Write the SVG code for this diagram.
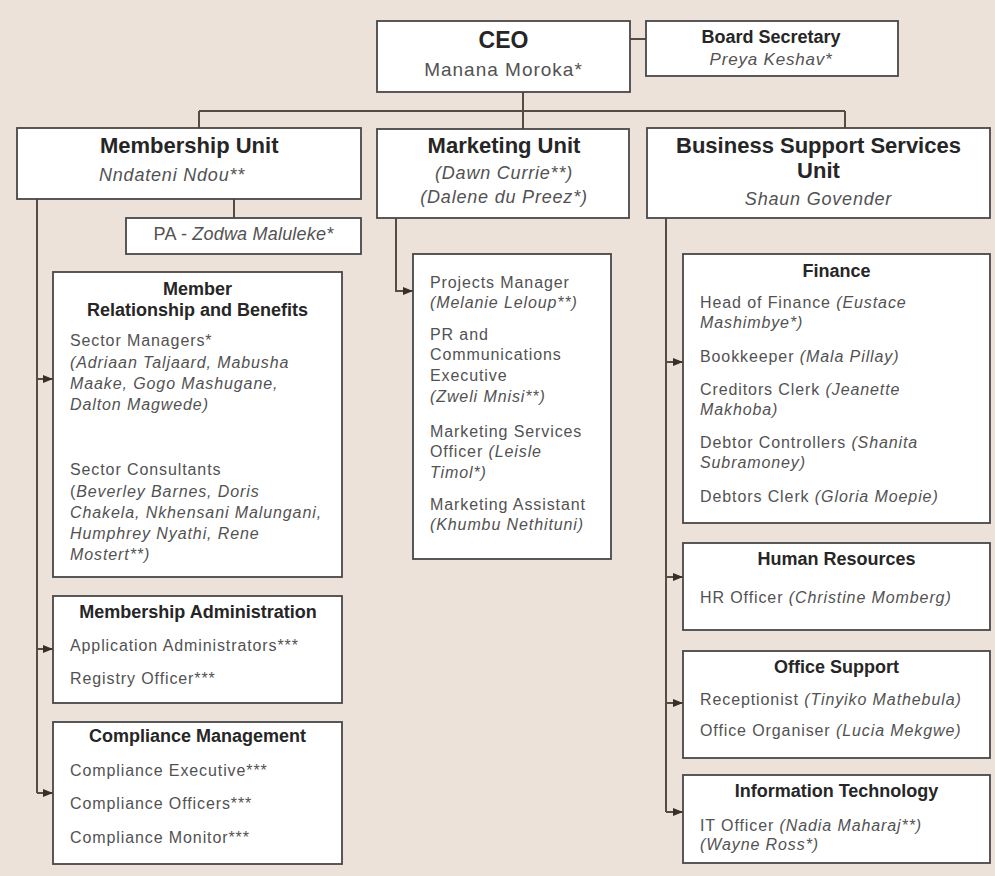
<svg xmlns="http://www.w3.org/2000/svg" width="995" height="876" viewBox="0 0 995 876">
<defs>
<style>
.bg{fill:#ede2da}
.box{fill:#ffffff;stroke:#474747;stroke-width:1.8}
.conn{fill:none;stroke:#5a4a44;stroke-width:2}
.h1{font-family:"Liberation Sans",Arial,sans-serif;font-weight:bold;font-size:22px;fill:#262626}
.h2{font-family:"Liberation Sans",Arial,sans-serif;font-weight:bold;font-size:18px;fill:#262626;text-anchor:middle}
.sub{font-family:"Liberation Sans",Arial,sans-serif;font-size:18px;fill:#525252;letter-spacing:0.8px}
.t{font-family:"Liberation Sans",Arial,sans-serif;font-size:16px;fill:#525252;letter-spacing:0.9px}
.i{font-style:italic}
.mid{text-anchor:middle}
</style>
<marker id="arr" viewBox="0 0 10 8" refX="10" refY="4" markerWidth="10" markerHeight="8" markerUnits="userSpaceOnUse" orient="auto">
<path d="M0,0 L10,4 L0,8 z" fill="#3a2e2a"/>
</marker>
</defs>
<rect class="bg" x="0" y="0" width="995" height="876"/>

<g id="connectors">
<path class="conn" d="M630,39 H646"/>
<path class="conn" d="M523,92 V129"/>
<path class="conn" d="M199,111 H845"/>
<path class="conn" d="M199,111 V128"/>
<path class="conn" d="M845,111 V128"/>
<path class="conn" d="M234,199 V218"/>
<path class="conn" d="M37,199 V793"/>
<path class="conn" d="M37,379 H53" marker-end="url(#arr)"/>
<path class="conn" d="M37,649 H53" marker-end="url(#arr)"/>
<path class="conn" d="M37,793 H53" marker-end="url(#arr)"/>
<path class="conn" d="M396,218 V291 H413" marker-end="url(#arr)"/>
<path class="conn" d="M666,218 V812"/>
<path class="conn" d="M666,362 H683" marker-end="url(#arr)"/>
<path class="conn" d="M666,577 H683" marker-end="url(#arr)"/>
<path class="conn" d="M666,703 H683" marker-end="url(#arr)"/>
<path class="conn" d="M666,812 H683" marker-end="url(#arr)"/>
</g>

<g id="ceo">
<rect class="box" x="377" y="21" width="253" height="71"/>
<text class="h1 mid" x="503.5" y="48" style="font-size:23px">CEO</text>
<text class="sub mid" x="503.5" y="76" style="font-size:19px;letter-spacing:1px">Manana Moroka*</text>
</g>

<g id="board-secretary">
<rect class="box" x="646" y="21" width="252" height="55"/>
<text class="h2" x="771" y="43">Board Secretary</text>
<text class="sub mid i" x="771" y="65" style="font-size:17px">Preya Keshav*</text>
</g>

<g id="membership-unit">
<rect class="box" x="17" y="128" width="344" height="71"/>
<text class="h1" x="100" y="153">Membership Unit</text>
<text class="sub i" x="99" y="181">Nndateni Ndou**</text>
</g>

<g id="pa">
<rect class="box" x="126" y="218" width="235" height="36"/>
<text class="sub mid" x="243.5" y="240" style="letter-spacing:0.2px">PA - <tspan class="i">Zodwa Maluleke*</tspan></text>
</g>

<g id="marketing-unit">
<rect class="box" x="377" y="129" width="252" height="89"/>
<text class="h1 mid" x="504" y="153">Marketing Unit</text>
<text class="sub mid i" x="504" y="179">(Dawn Currie**)</text>
<text class="sub mid i" x="504" y="203">(Dalene du Preez*)</text>
</g>

<g id="business-support-unit">
<rect class="box" x="647" y="128" width="343" height="90"/>
<text class="h1 mid" x="818.5" y="153">Business Support Services</text>
<text class="h1 mid" x="818.5" y="178">Unit</text>
<text class="sub mid i" x="818.5" y="205">Shaun Govender</text>
</g>

<g id="member-relationship">
<rect class="box" x="53" y="272" width="289" height="305"/>
<text class="h2" x="197.5" y="295">Member</text>
<text class="h2" x="197.5" y="316">Relationship and Benefits</text>
<text class="t" x="70" y="346">Sector Managers*</text>
<text class="t i" x="70" y="368">(Adriaan Taljaard, Mabusha</text>
<text class="t i" x="70" y="389">Maake, Gogo Mashugane,</text>
<text class="t i" x="70" y="410">Dalton Magwede)</text>
<text class="t" x="70" y="475">Sector Consultants</text>
<text class="t" x="70" y="497">(<tspan class="i">Beverley Barnes, Doris</tspan></text>
<text class="t i" x="70" y="518">Chakela, Nkhensani Malungani,</text>
<text class="t i" x="70" y="539">Humphrey Nyathi, Rene</text>
<text class="t i" x="70" y="560">Mostert**)</text>
</g>

<g id="membership-administration">
<rect class="box" x="53" y="596" width="289" height="107"/>
<text class="h2" x="198" y="618">Membership Administration</text>
<text class="t" x="70" y="651">Application Administrators***</text>
<text class="t" x="70" y="684">Registry Officer***</text>
</g>

<g id="compliance-management">
<rect class="box" x="53" y="722" width="289" height="142"/>
<text class="h2" x="197.5" y="742">Compliance Management</text>
<text class="t" x="70" y="776">Compliance Executive***</text>
<text class="t" x="70" y="809">Compliance Officers***</text>
<text class="t" x="70" y="843">Compliance Monitor***</text>
</g>

<g id="marketing-staff">
<rect class="box" x="413" y="254" width="198" height="305"/>
<text class="t" x="430" y="288">Projects Manager</text>
<text class="t i" x="430" y="308">(Melanie Leloup**)</text>
<text class="t" x="430" y="340">PR and</text>
<text class="t" x="430" y="360">Communications</text>
<text class="t" x="430" y="381">Executive</text>
<text class="t i" x="430" y="402">(Zweli Mnisi**)</text>
<text class="t" x="430" y="437">Marketing Services</text>
<text class="t" x="430" y="457">Officer <tspan class="i">(Leisle</tspan></text>
<text class="t i" x="430" y="478">Timol*)</text>
<text class="t" x="430" y="510">Marketing Assistant</text>
<text class="t i" x="430" y="530">(Khumbu Nethituni)</text>
</g>

<g id="finance">
<rect class="box" x="683" y="254" width="307" height="269"/>
<text class="h2" x="836.5" y="277">Finance</text>
<text class="t" x="700" y="308">Head of Finance <tspan class="i">(Eustace</tspan></text>
<text class="t i" x="700" y="328">Mashimbye*)</text>
<text class="t" x="700" y="362">Bookkeeper <tspan class="i">(Mala Pillay)</tspan></text>
<text class="t" x="700" y="395">Creditors Clerk <tspan class="i">(Jeanette</tspan></text>
<text class="t i" x="700" y="415">Makhoba)</text>
<text class="t" x="700" y="448">Debtor Controllers <tspan class="i">(Shanita</tspan></text>
<text class="t i" x="700" y="468">Subramoney)</text>
<text class="t" x="700" y="502">Debtors Clerk <tspan class="i">(Gloria Moepie)</tspan></text>
</g>

<g id="human-resources">
<rect class="box" x="683" y="543" width="307" height="87"/>
<text class="h2" x="836.5" y="565">Human Resources</text>
<text class="t" x="700" y="603">HR Officer <tspan class="i">(Christine Momberg)</tspan></text>
</g>

<g id="office-support">
<rect class="box" x="683" y="651" width="307" height="107"/>
<text class="h2" x="836.5" y="673">Office Support</text>
<text class="t" x="700" y="705">Receptionist <tspan class="i">(Tinyiko Mathebula)</tspan></text>
<text class="t" x="700" y="736">Office Organiser <tspan class="i">(Lucia Mekgwe)</tspan></text>
</g>

<g id="information-technology">
<rect class="box" x="683" y="775" width="307" height="88"/>
<text class="h2" x="836.5" y="797">Information Technology</text>
<text class="t" x="700" y="831">IT Officer <tspan class="i">(Nadia Maharaj**)</tspan></text>
<text class="t i" x="700" y="850">(Wayne Ross*)</text>
</g>
</svg>
